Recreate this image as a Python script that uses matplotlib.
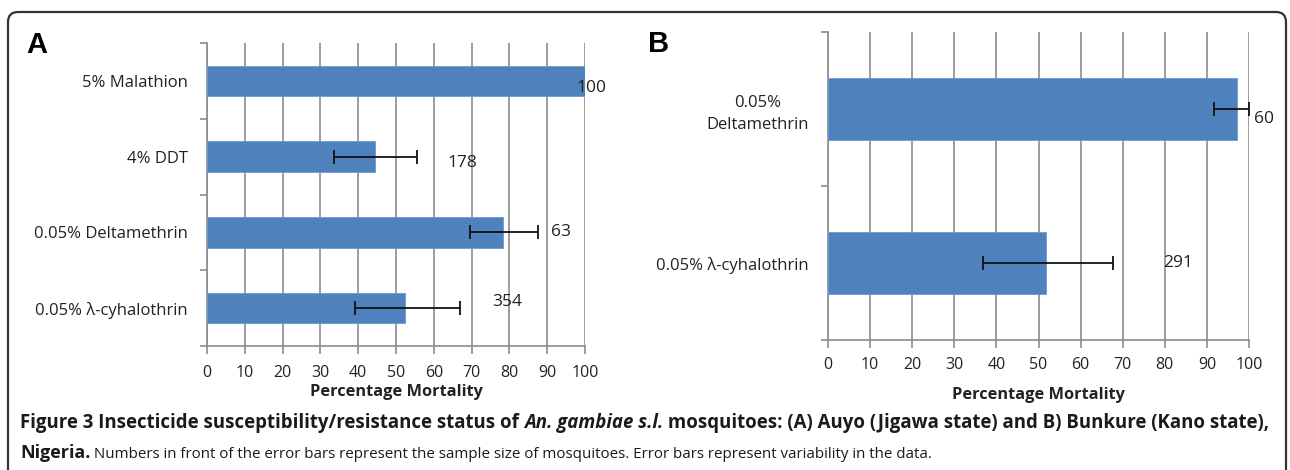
import matplotlib
matplotlib.use("Agg")
import matplotlib.pyplot as plt
import matplotlib.patches as patches
import numpy as np

# panel A data
cats_a = ["0.05% \u03bb-cyhalothrin", "0.05% Deltamethrin", "4% DDT", "5% Malathion"]
mort_a = [52.4, 78.4, 44.4, 100]
err_lo_a = [39.1, 69.7, 33.7, None]
err_hi_a = [67.0, 87.6, 55.6, None]
n_a = ["354", "63", "178", "100"]
n_x_a = [79.5, 93.7, 67.6, 101.6]

# panel B data
cats_b = ["0.05% \u03bb-cyhalothrin", "0.05%\nDeltamethrin"]
mort_b = [51.9, 97.2]
err_lo_b = [36.8, 91.7]
err_hi_b = [67.8, 100]
n_b = ["291", "60"]
n_x_b = [83.2, 103.6]

xticks = list(range(0, 101, 10))

BAR = "#4F81BD"
GRID = "#8c8c8c"
FONT = ["Open Sans", "DejaVu Sans"]

fig = plt.figure(figsize=(12.9, 4.7), dpi=100)

# background axes in pixel units for frame + caption
bg = fig.add_axes([0, 0, 1, 1])
bg.set_xlim(0, 1290)
bg.set_ylim(470, 0)
bg.set_axis_off()
frame = patches.FancyBboxPatch((8, 12), 1278, 500, boxstyle="round,pad=0,rounding_size=10",
                               fill=False, edgecolor="#333333", linewidth=1.6)
bg.add_patch(frame)
bg.text(26, 45, "A", fontsize=21, fontweight="bold", family=["Liberation Sans", "DejaVu Sans"],
        va="center", ha="left")
bg.text(648, 44, "B", fontsize=21, fontweight="bold", family=["Liberation Sans", "DejaVu Sans"],
        va="center", ha="left")


def draw_panel(ax, cats, vals, lo, hi, labels, lab_x, lab_dy):
    y = np.arange(len(cats))
    ax.barh(y, vals, height=0.4, color=BAR, edgecolor="#6f9bd0", linewidth=0.6, zorder=3)
    for i in range(len(cats)):
        if lo[i] is not None:
            ax.errorbar(vals[i], y[i], xerr=[[vals[i] - lo[i]], [hi[i] - vals[i]]],
                        fmt="none", ecolor="#111111", elinewidth=1.3, capsize=5, capthick=1.3, zorder=4)
        ax.text(lab_x[i], y[i] + lab_dy[i], labels[i], ha="center", va="center",
                fontsize=12.5, family=FONT, color="#222222", zorder=5, clip_on=False)
    ax.set_xlim(0, 100)
    ax.set_ylim(-0.5, len(cats) - 0.5)
    ax.set_xticks(xticks)
    ax.set_xticklabels([str(t) for t in xticks], family=FONT, fontsize=11.5, color="#222222")
    ax.set_yticks(y)
    ax.set_yticklabels(cats, family=FONT, fontsize=12, color="#222222", linespacing=1.5)
    ax.set_yticks(np.arange(len(cats) + 1) - 0.5, minor=True)
    ax.tick_params(axis="y", which="major", length=0, pad=14)
    ax.tick_params(axis="y", which="minor", length=5, color=GRID, width=1.2)
    ax.tick_params(axis="x", length=6, color=GRID, width=1.2, pad=8)
    ax.grid(axis="x", color=GRID, linewidth=1.2, zorder=0)
    for s in ["top", "right"]:
        ax.spines[s].set_visible(False)
    for s in ["left", "bottom"]:
        ax.spines[s].set_color(GRID)
        ax.spines[s].set_linewidth(1.2)
    ax.set_xlabel("Percentage Mortality", family=FONT, fontsize=11.8, fontweight="bold",
                  color="#222222")


ax_a = fig.add_axes([207 / 1290, 1 - 346 / 470, 378 / 1290, 303 / 470])
draw_panel(ax_a, cats_a, mort_a, err_lo_a, err_hi_a, n_a, n_x_a, [0.08, 0.0, -0.08, -0.1])
ax_a.xaxis.labelpad = 2

ax_b = fig.add_axes([828 / 1290, 1 - 340 / 470, 421 / 1290, 308 / 470])
draw_panel(ax_b, cats_b, mort_b, err_lo_b, err_hi_b, n_b, n_x_b, [0.0, -0.065])
ax_b.xaxis.labelpad = 10
ax_b.tick_params(axis="x", pad=6)
ax_b.get_yticklabels()[1].set_multialignment("center")

# caption built from pieces on a shared baseline so bold / italic can be mixed
line1 = [("Figure 3 Insecticide susceptibility/resistance status of ", "bold", "normal"),
         ("An. gambiae s.l.", "bold", "italic"),
         (" mosquitoes: (A) Auyo (Jigawa state) and B) Bunkure (Kano state),", "bold", "normal")]
line2 = [("Nigeria.", "bold", "normal"),
         (" Numbers in front of the error bars represent the sample size of mosquitoes. "
          "Error bars represent variability in the data.", "normal", "normal")]

renderer = fig.canvas.get_renderer()
for ybase, parts, sizes in [(428, line1, [13.45, 13.45, 13.45]), (458, line2, [13.0, 10.9])]:
    x = 20
    for (txt, w, st), size in zip(parts, sizes):
        t = bg.text(x, ybase, txt, fontsize=size, fontweight=w, fontstyle=st, family=FONT,
                    color="#1a1a1a", va="baseline", ha="left")
        # advance by the rendered width (1 data unit = 1 pixel here)
        x += t.get_window_extent(renderer).width

fig.savefig("out.png", dpi=100)
